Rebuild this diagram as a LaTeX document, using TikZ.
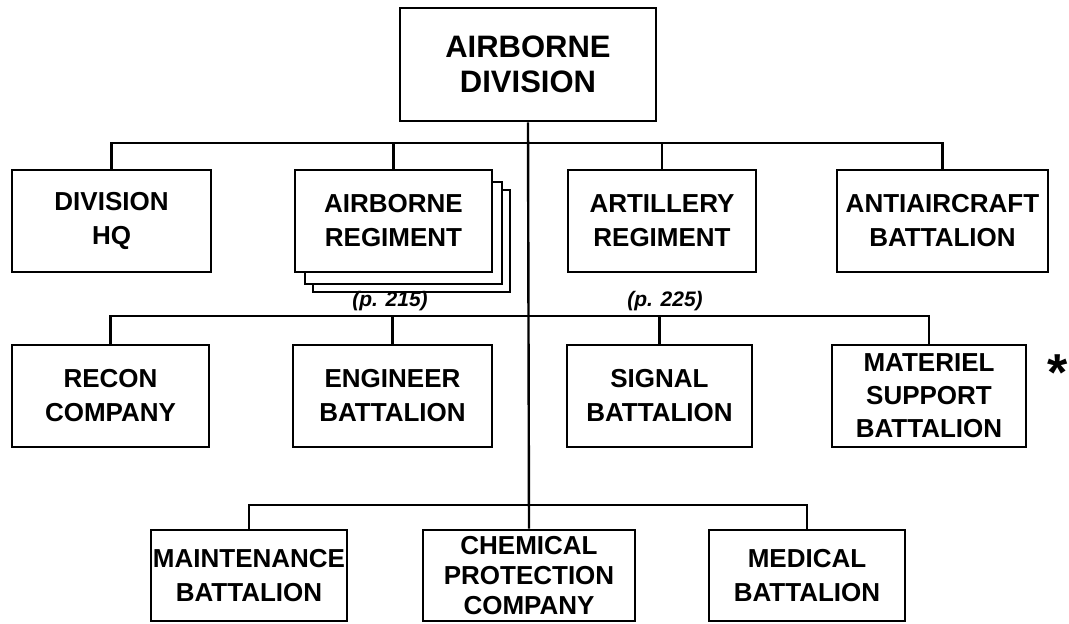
\documentclass[tikz,border=0pt]{standalone}
\usepackage{fontspec}
\setmainfont{Liberation Sans}
\usepackage{xcolor}
\usepackage{tikz}

\begin{document}
\begin{tikzpicture}[x=1pt, y=-1pt, every node/.style={font=\bfseries\fontsize{26}{34}\selectfont}, unit/.style={draw, line width=2.6pt, align=center, inner sep=0pt, minimum height=102pt, fill=white}, head/.style={unit, minimum width=256pt, minimum height=113pt, font=\bfseries\fontsize{31}{35}\selectfont}, low/.style={unit, minimum height=91pt}, pgref/.style={font=\bfseries\itshape\fontsize{21}{21}\selectfont, inner sep=0pt}, link/.style={line width=2.4pt}]
\useasboundingbox (0,0) rectangle (1069,624);
% top
\node[head] (div) at (528,64.5) {AIRBORNE\\DIVISION};
% first row
\node[unit, minimum width=199pt] (hq) at (111.5,221) {DIVISION\\HQ};
\node[unit, minimum width=197pt, line width=2.2pt] (regtc) at (411.5,241) {};
\node[unit, minimum width=197pt, line width=2.2pt] (regtb) at (403.5,233) {};
\node[unit, minimum width=197pt] (regt) at (393.5,221) {AIRBORNE\\REGIMENT};
\node[unit, minimum width=188pt] (arty) at (662,221) {ARTILLERY\\REGIMENT};
\node[unit, minimum width=211pt] (aa) at (942.5,221) {ANTIAIRCRAFT\\BATTALION};
\node[pgref] (p215) at (390,301) {(p. 215)};
\node[pgref] (p225) at (665,301) {(p. 225)};
% second row
\node[unit, minimum width=197pt] (recon) at (110.5,396) {RECON\\COMPANY};
\node[unit, minimum width=199pt] (eng) at (392.5,396) {ENGINEER\\BATTALION};
\node[unit, minimum width=185pt] (sig) at (659.5,396) {SIGNAL\\BATTALION};
\node[unit, minimum width=194pt, font=\bfseries\fontsize{26}{33}\selectfont] (mat) at (929,396) {MATERIEL\\SUPPORT\\BATTALION};
\node[font=\bfseries\fontsize{52}{52}\selectfont, inner sep=0pt] (star) at (1058,373) {*};
% third row
\node[low, minimum width=196pt] (maint) at (249,575.5) {MAINTENANCE\\BATTALION};
\node[low, minimum width=212pt, font=\bfseries\fontsize{26}{30}\selectfont] (chem) at (529,575.5) {CHEMICAL\\PROTECTION\\COMPANY};
\node[low, minimum width=196pt] (med) at (807,575.5) {MEDICAL\\BATTALION};
% lines
\coordinate (bus1) at (528,143);
\coordinate (bus2) at (528,316);
\coordinate (bus3) at (528,505);
\draw[link] (div.south) -- (chem.north);
\draw[link] (hq.north) |- (bus1) -| (aa.north); \draw[link] (regt.north) -- (regt.north |- bus1); \draw[link] (arty.north) -- (arty.north |- bus1);
\draw[link] (recon.north) |- (bus2) -| (mat.north); \draw[link] (eng.north) -- (eng.north |- bus2); \draw[link] (sig.north) -- (sig.north |- bus2);
\draw[link] (maint.north) |- (bus3) -| (med.north);
\end{tikzpicture}
\end{document}
